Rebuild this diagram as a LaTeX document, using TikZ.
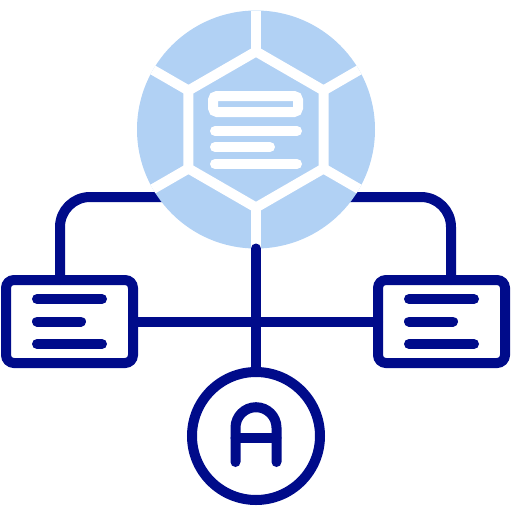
\documentclass[tikz,border=0pt]{standalone}
\usetikzlibrary{positioning, calc}
\definecolor{navy}{RGB}{0,11,138}
\definecolor{paleblue}{RGB}{177,209,244}
\pgfdeclarelayer{background}
\pgfsetlayers{background,main}
\tikzset{
  panel/.style = {draw=navy, line width=10pt, rounded corners=8pt, minimum width=127pt, minimum height=83pt, inner sep=0pt, outer sep=0pt},
  link/.style  = {draw=navy, line width=10pt, line cap=round},
  gap/.style   = {draw=white, line width=10pt},
  bar/.style   = {draw=navy, line width=10pt, line cap=round}
}
\begin{document}
\begin{tikzpicture}[x=1pt, y=-1pt,
  hubdisc/.style={circle, fill=paleblue, minimum size=238pt, inner sep=0pt, outer sep=0pt},
  badge/.style={circle, draw=navy, line width=10pt, minimum size=128pt, inner sep=0pt, outer sep=0pt}
]
  \useasboundingbox (0,0) rectangle (512,512);
  \node[hubdisc] (hub) at (256,129.5) {};
  \node[panel] (lbox) at (69.5,321.5) {};
  \node[panel, right=245pt of lbox] (rbox) {};
  \node[badge] (abadge) at (256,436) {};
  \coordinate (tap) at (256,197);

  % links under the hub
  \begin{pgfonlayer}{background}
    \draw[link, rounded corners=30pt] ($(lbox.north)+(-9.5,0)$) |- (tap) -| ($(rbox.north)+(9.5,0)$);
  \end{pgfonlayer}
  \draw[link] (lbox.east) -- (rbox.west);

  % hexagon cut into the hub
  \begin{scope}[shift={(hub.center)}]
    \draw[gap] (30:78) -- (90:78) -- (150:78) -- (210:78) -- (270:78) -- (330:78) -- cycle;
    \foreach \a in {30,90,...,330}
      \draw[gap] (\a:78) -- (\a:119);
    \draw[gap, rounded corners=4pt] (-43,-33.5) rectangle (42,-17.5);
    \draw[gap, line cap=round] (-41,1.5) -- (41,1.5);
    \draw[gap, line cap=round] (-41,17.5) -- (14,17.5);
    \draw[gap, line cap=round] (-41,34.5) -- (41,34.5);
  \end{scope}
  \draw[link] (hub.south) -- (abadge.north);

  \foreach \p in {lbox, rbox} {
    \draw[bar] ($(\p.west)+(31,-22.5)$) -- ++(65,0);
    \draw[bar] ($(\p.west)+(31,0)$) -- ++(44,0);
    \draw[bar] ($(\p.west)+(31,22.5)$) -- ++(65,0);
  }

  % letter in the badge
  \draw[bar] ($(abadge.center)+(-20.5,26)$) -- ++(0,-34.3)
    arc[start angle=180, end angle=360, radius=20.5] -- ++(0,34.3);
  \draw[bar] ($(abadge.center)+(-20.5,1.7)$) -- ++(41,0);
\end{tikzpicture}
\end{document}
